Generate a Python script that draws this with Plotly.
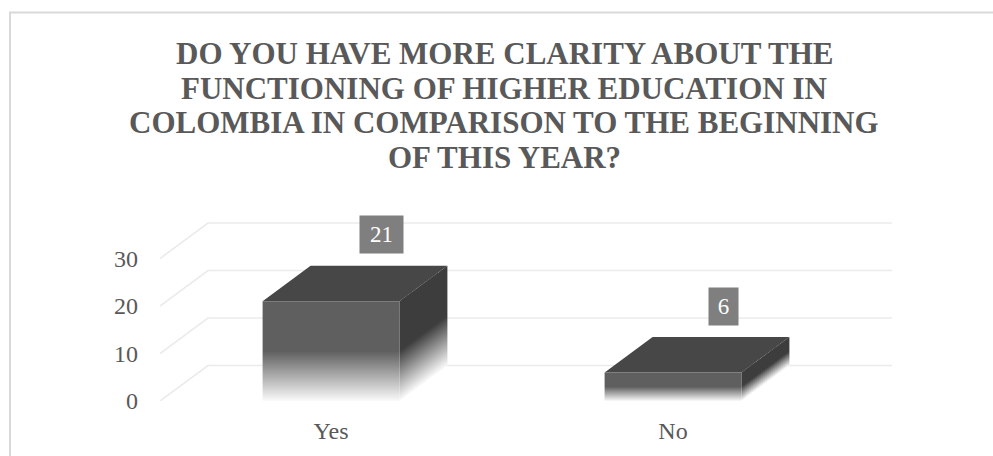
import plotly.graph_objects as go

# ---------------- data ----------------
categories = ["Yes", "No"]
values = [21, 6]
y_ticks = [0, 10, 20, 30]
title_lines = [
    "DO YOU HAVE MORE CLARITY ABOUT THE",
    "FUNCTIONING OF HIGHER EDUCATION IN",
    "COLOMBIA IN COMPARISON TO THE BEGINNING",
    "OF THIS YEAR?",
]

# ---------------- geometry / style ----------------
W, H = 993, 456
ML, MR, MT, MB = 160, 101, 200, 55
plot_w = W - ML - MR
plot_h = H - MT - MB
px_per_x = 342.0        # pixels per category unit
px_per_y = 4.75         # pixels per value unit
depth_px = (48.0, 35.5)  # 3-D depth offset in pixels (right, up)
ddx = depth_px[0] / px_per_x
ddy = depth_px[1] / px_per_y
bar_w = 0.40
n_cat = len(categories)
x_range = [-0.5, -0.5 + plot_w / px_per_x]
y_range = [0, plot_h / px_per_y]

FRONT = "#5f5f5f"
TOP = "#474747"
SIDE = "#3d3d3d"
FADE = "#fafafa"
GRID = "#ebebeb"
TXT = "#595959"
FONT = "Liberation Serif"

fig = go.Figure()

# gridlines: back wall + left side wall
gx, gy = [], []
for v in y_ticks:
    gx += [-0.5, -0.5 + ddx, n_cat - 0.5 + ddx, None]
    gy += [v, v + ddy, v + ddy, None]
fig.add_trace(go.Scatter(x=gx, y=gy, mode="lines",
                         line=dict(color=GRID, width=1.6),
                         hoverinfo="skip", showlegend=False))

# 3-D bars
for i, (cat, v) in enumerate(zip(categories, values)):
    xl, xr = i - bar_w / 2, i + bar_w / 2
    # side face, drawn in slices so the fade follows the slanted bottom edge
    n_sl = 24
    for k in range(n_sl):
        t0 = k / n_sl
        t1 = min(1.0, (k + 1) / n_sl + 0.015)
        tm = (t0 + t1) / 2
        fig.add_trace(go.Scatter(
            x=[xr + t0 * ddx, xr + t1 * ddx, xr + t1 * ddx, xr + t0 * ddx, xr + t0 * ddx],
            y=[t0 * ddy, t1 * ddy, v + t1 * ddy, v + t0 * ddy, t0 * ddy],
            mode="lines", line=dict(width=0), fill="toself",
            fillgradient=dict(type="vertical", start=tm * ddy, stop=tm * ddy + v / 2,
                              colorscale=[[0, FADE], [1, SIDE]]),
            hoverinfo="skip", showlegend=False))
    # top face
    fig.add_trace(go.Scatter(
        x=[xl, xr, xr + ddx, xl + ddx, xl],
        y=[v, v, v + ddy, v + ddy, v],
        mode="lines", line=dict(width=0), fill="toself", fillcolor=TOP,
        hoverinfo="skip", showlegend=False))
    # front face
    fig.add_trace(go.Scatter(
        x=[xl, xr, xr, xl, xl],
        y=[0, 0, v, v, 0],
        mode="lines", line=dict(width=0), fill="toself",
        fillgradient=dict(type="vertical", start=0, stop=v / 2,
                          colorscale=[[0, FADE], [1, FRONT]]),
        hoverinfo="skip", showlegend=False))
    # data label
    txt = str(v)
    fig.add_annotation(x=i + ddx, y=v + ddy, xref="x", yref="y",
                       text=txt, showarrow=False, yshift=31, xshift=2,
                       font=dict(family=FONT, size=23, color="white"),
                       bgcolor="#7f7f7f", borderpad=0,
                       width=14 * len(txt) + 15, height=37,
                       xanchor="center", yanchor="middle")

# title (one annotation per line to keep the tight line spacing)
title_centers_px = [53.5, 88, 122.5, 157]
for line, cy in zip(title_lines, title_centers_px):
    fig.add_annotation(x=(504 - ML) / plot_w, y=(H - MB - cy) / plot_h,
                       xref="paper", yref="paper", text=line, showarrow=False,
                       xanchor="center", yanchor="middle",
                       font=dict(family=FONT, size=31, color=TXT, weight="bold"))

# chart border (only top and left visible in the reference)
fig.add_shape(type="rect", xref="paper", yref="paper",
              x0=(10 - ML) / plot_w, x1=(W + 20 - ML) / plot_w,
              y0=(H - MB - (H + 20)) / plot_h, y1=(H - MB - 12.5) / plot_h,
              line=dict(color="#d9d9d9", width=2), fillcolor="rgba(0,0,0,0)",
              layer="below")

fig.update_layout(
    width=W, height=H, autosize=False,
    margin=dict(l=ML, r=MR, t=MT, b=MB, pad=0),
    paper_bgcolor="white", plot_bgcolor="white",
    showlegend=False,
    xaxis=dict(range=x_range, tickmode="array", tickvals=list(range(n_cat)),
               ticktext=categories, showgrid=False, zeroline=False,
               showline=False, ticks="", ticklabelstandoff=13,
               tickfont=dict(family=FONT, size=24, color=TXT), fixedrange=True),
    yaxis=dict(range=y_range, tickmode="array", tickvals=y_ticks,
               showgrid=False, zeroline=False, showline=False, ticks="",
               ticklabelstandoff=21,
               tickfont=dict(family=FONT, size=24, color=TXT), fixedrange=True),
)

fig.write_html("out.html")
